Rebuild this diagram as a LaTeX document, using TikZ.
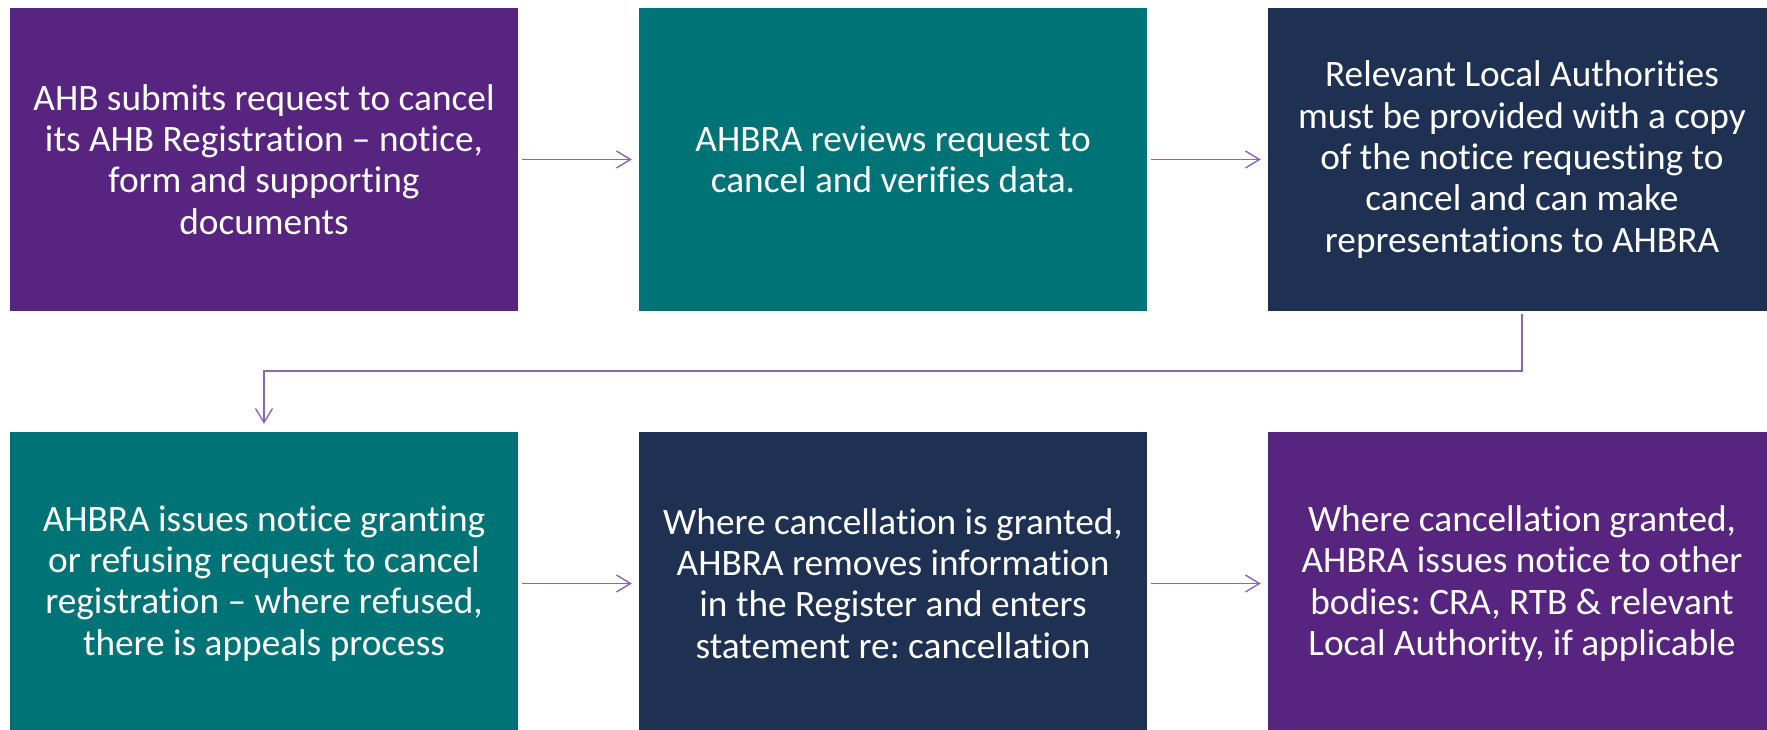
\documentclass[tikz,border=0pt]{standalone}
\usepackage{fontspec}
\setmainfont[Ligatures=NoCommon]{Carlito}
\frenchspacing
\usetikzlibrary{arrows.meta}
\definecolor{cpurple}{HTML}{57257F}
\definecolor{cteal}{HTML}{007377}
\definecolor{cnavy}{HTML}{1F3152}
\definecolor{carrow}{HTML}{8C66B6}
\tikzset{
  stepbox/.style={rectangle, inner sep=0pt, minimum width=508pt, minimum height=303pt,
    text=white, align=center, font=\fontsize{37.3}{41.3}\selectfont},
  flow/.style={draw=carrow, line width=1.6pt,
    -{Straight Barb[length=14pt,width=17pt,line width=1.4pt]}}
}
\begin{document}
\begin{tikzpicture}[x=1pt,y=-1pt]
\useasboundingbox (0,0) rectangle (1767,729);
\clip (0,0) rectangle (1767,729);
\node[stepbox, fill=cpurple] (b1) at (264,159.5) {AHB submits request to cancel\\its AHB Registration -- notice,\\form and supporting\\documents};
\node[stepbox, fill=cteal] (b2) at (893,159.5) {AHBRA reviews request to\\cancel and verifies data.};
\node[stepbox, fill=cnavy] (b3) at (1522,159.5) {Relevant Local Authorities\\must be provided with a copy\\of the notice requesting to\\cancel and can make\\representations to AHBRA};
\node[stepbox, fill=cteal] (b4) at (264,583.5) {AHBRA issues notice granting\\or refusing request to cancel\\registration -- where refused,\\there is appeals process};
\node[stepbox, fill=cnavy] (b5) at (893,583.5) {Where cancellation is granted,\\AHBRA removes information\\in the Register and enters\\statement re: cancellation};
\node[stepbox, fill=cpurple] (b6) at (1522,583.5) {Where cancellation granted,\\AHBRA issues notice to other\\bodies: CRA, RTB \& relevant\\Local Authority, if applicable};
\draw[flow, shorten <=4pt, shorten >=7pt] (b1.east) -- (b2.west);
\draw[flow, shorten <=4pt, shorten >=7pt] (b2.east) -- (b3.west);
\draw[flow, shorten <=3pt, shorten >=8pt] (b3.south) -- ++(0,60) -| (b4.north);
\draw[flow, shorten <=4pt, shorten >=7pt] (b4.east) -- (b5.west);
\draw[flow, shorten <=4pt, shorten >=7pt] (b5.east) -- (b6.west);
\end{tikzpicture}
\end{document}
